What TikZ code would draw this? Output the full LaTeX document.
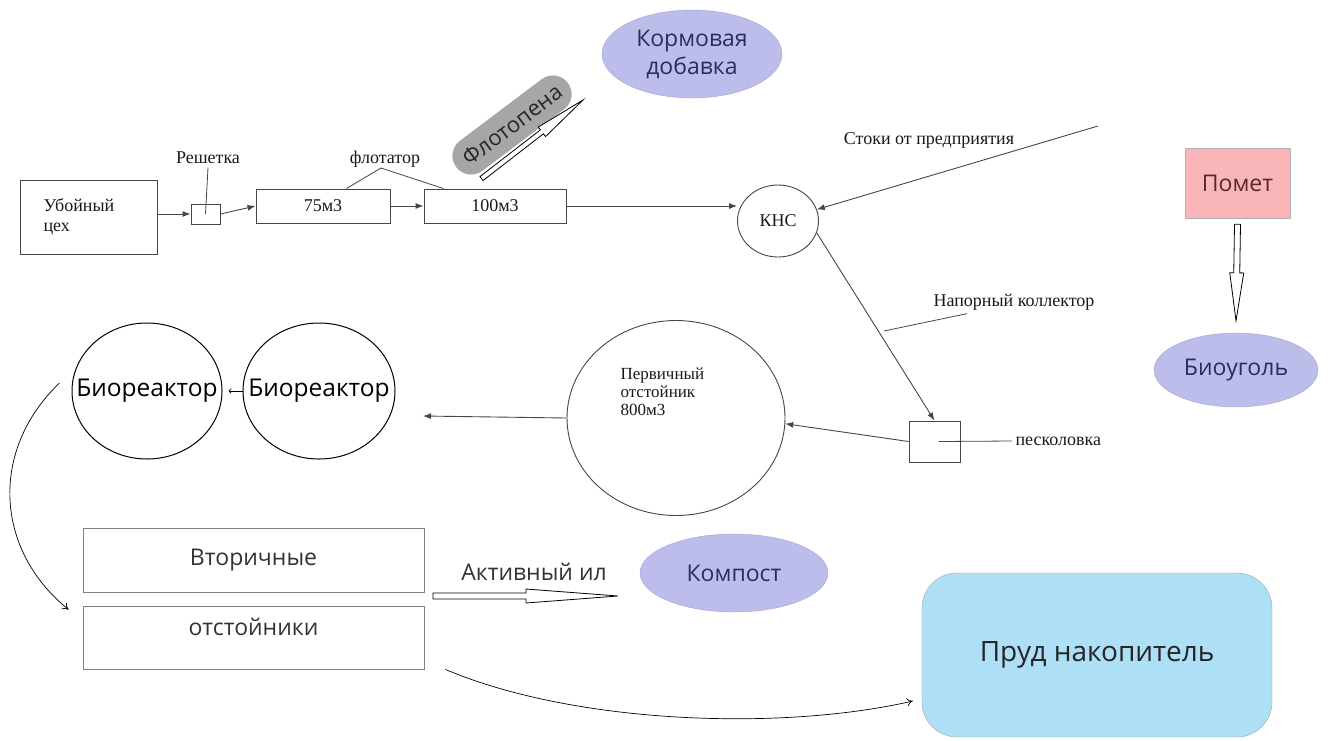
\documentclass[tikz,border=0pt]{standalone}
\usepackage{fontspec}
\setmainfont{Liberation Serif}
\newfontfamily\uifont{Open Sans}
\usetikzlibrary{arrows.meta,calc,positioning,shapes.geometric,shapes.misc}

\definecolor{lavender}{RGB}{189,189,235}
\definecolor{lavline}{RGB}{165,165,210}
\definecolor{navytext}{RGB}{45,45,90}
\definecolor{pinkfill}{RGB}{249,181,184}
\definecolor{maroontext}{RGB}{90,40,40}
\definecolor{pondblue}{RGB}{173,224,247}
\definecolor{pillgray}{RGB}{166,166,166}
\definecolor{linegray}{RGB}{70,70,70}

\tikzset{
  serif/.style={font=\fontsize{18}{20}\selectfont, text=black!90},
  sans/.style={font=\uifont\fontsize{23}{28}\selectfont},
  box/.style={draw=linegray, line width=0.9pt, inner sep=0pt},
  flow/.style={draw=linegray, line width=0.9pt, -{Latex[length=8pt,width=6pt]}},
  lead/.style={draw=linegray, line width=0.8pt},
  blob/.style={ellipse, draw=lavline, fill=lavender, text=navytext, sans, align=center, inner sep=0pt},
  tank/.style={ellipse, draw=black, line width=1pt, inner sep=0pt},
  hollow/.style={draw=black, line width=0.8pt, fill=white, line join=miter},
  curvy/.style={draw=black, line width=0.7pt, -{To[length=6pt,width=8pt]}},
}

% tail, tip, head length, shaft half width, head half width
\newcommand{\hollowarrow}[5]{%
  \coordinate (hb) at ($(#2)!#3!(#1)$);
  \draw[hollow] ($(#1)!#4!90:(#2)$) -- ($(hb)!#4!-90:(#1)$) -- ($(hb)!#5!-90:(#1)$) -- (#2)
    -- ($(hb)!#5!90:(#1)$) -- ($(hb)!#4!90:(#1)$) -- ($(#1)!#4!-90:(#2)$) -- cycle;
}

\begin{document}
\begin{tikzpicture}[x=1pt,y=-1pt]
\useasboundingbox (0,0) rectangle (1330,740);

% slaughter line
\node[box, minimum width=137pt, minimum height=74pt, serif, align=left, text width=90pt, inner xsep=23.5pt] (ceh) at (88.5,217) {Убойный\\цех};
\node[box, minimum width=29pt, minimum height=20pt] (resh) at (205.5,214) {};
\node[serif] (reshl) at (208,158) {Решетка};
\node[box, minimum width=134pt, minimum height=34pt, serif] (f75) at (323,206) {75м3};
\node[box, minimum width=142pt, minimum height=34pt, serif] (f100) at (495,206) {100м3};
\node[serif] (flot) at (385,159) {флотатор};
\coordinate (fapex) at (381,168);

\draw[lead] (reshl.south) -- (resh.center);
\draw[flow] (ceh.east |- resh.west) -- (resh.west);
\draw[flow] (resh.east) -- (f75.west);
\draw[flow] (f75.east) -- (f100.west);
\draw[lead] ([xshift=-44pt]f75.north east) -- (fapex) -- ([xshift=20pt]f100.north west);

% flotation foam
\node[rounded rectangle, fill=pillgray, draw=pillgray, minimum width=146pt, minimum height=37pt, rotate=37, sans, font=\uifont\fontsize{22}{26}\selectfont, text=black!85] (fpena) at (512,125) {Флотопена};
\coordinate (fptail) at ([xshift=58pt,yshift=10pt]f100.north west);
\coordinate (fptip) at (583,100);
\hollowarrow{fptail}{fptip}{52pt}{2.5pt}{6pt}
\node[blob, minimum width=180pt, minimum height=88pt] (korm) at (692,54) {Кормовая\\добавка};

% pumping station
\node[ellipse, box, minimum width=81pt, minimum height=72pt, serif] (kns) at (778,221) {КНС};
\draw[flow] (f100.east) -- (f100.east -| kns.west);
\coordinate (stokin) at (1098,126);
\node[serif] (stoki) at (929,140) {Стоки от предприятия};
\draw[flow] (stokin) -- (kns);

\node[box, minimum width=51pt, minimum height=41pt] (pesk) at (934.5,441.5) {};
\draw[flow] (kns.-17) -- (pesk.north);
\node[serif] (napor) at (1014,302) {Напорный коллектор};
\coordinate (napend) at (884,331);
\draw[lead] ([xshift=-47pt]napor.south) -- (napend);
\node[serif, anchor=west] (peskl) at (1012,441) {песколовка};
\draw[lead] ([xshift=4pt]pesk.center) -- (peskl.west);

% primary settler
\node[tank, draw=linegray, line width=0.9pt, minimum width=218pt, minimum height=195pt] (perv) at (676,418) {};
\node[serif, align=left, anchor=north west, font=\fontsize{17}{18}\selectfont] (pervt) at (617,364) {Первичный\\отстойник\\800м3};
\draw[flow] (pesk.west) -- (perv.-3);
\coordinate (pervout) at (423,416);
\draw[flow] (perv.west) -- (pervout);

% bioreactors
\node[tank, minimum width=150pt, minimum height=136pt, label={[sans, font=\uifont\fontsize{24.5}{28}\selectfont]center:Биореактор}] (bio1) at (147,391) {};
\node[tank, minimum width=152pt, minimum height=136pt, label={[sans, font=\uifont\fontsize{24.5}{28}\selectfont]center:Биореактор}] (bio2) at (319,391) {};
\draw[line width=0.7pt, -{To[length=3pt,width=5pt]}] (bio2.west) -- ([xshift=6pt]bio1.east);

% secondary settlers
\node[box, draw=gray, minimum width=341pt, minimum height=64pt, sans, text=black!80] (sec1) at (253.5,560) {Вторичные};
\node[box, draw=gray, minimum width=341pt, minimum height=63pt, label={[sans, text=black!80, yshift=11pt]center:отстойники}] (sec2) at (253.5,637.5) {};
\draw[curvy] ([xshift=-12pt,yshift=8pt]bio1.west) .. controls +(-70,67) and +(-74,-60) .. ([xshift=-14pt,yshift=-4pt]sec2.north west);

\node[sans, text=black!80] (ail) at (534,572) {Активный ил};
\coordinate (ailtail) at (433,596);
\coordinate (ailtip) at (618,596);
\hollowarrow{ailtail}{ailtip}{92pt}{3pt}{7pt}
\node[blob, minimum width=188pt, minimum height=78pt] (komp) at (734,573) {Компост};

% pond
\node[draw=gray!70, fill=pondblue, rounded corners=35pt, minimum width=350pt, minimum height=164pt, font=\uifont\fontsize{28}{32}\selectfont, text=black!85] (prud) at (1097,655) {Пруд накопитель};
\draw[curvy] ([xshift=21pt]sec2.south east) .. controls +(130,55) and +(-130,30) .. ([xshift=-9pt,yshift=-46pt]prud.west);

% manure
\node[draw=gray!60, fill=pinkfill, minimum width=105pt, minimum height=70pt, sans, text=maroontext] (pomet) at (1237.5,183) {Помет};
\node[blob, minimum width=164pt, minimum height=74pt] (bug) at (1236,370) {Биоуголь};
\coordinate (pomtail) at ([yshift=-6pt]pomet.south);
\coordinate (pomtip) at ([yshift=12pt]bug.north);
\hollowarrow{pomtail}{pomtip}{48pt}{3pt}{7pt}
\end{tikzpicture}
\end{document}
